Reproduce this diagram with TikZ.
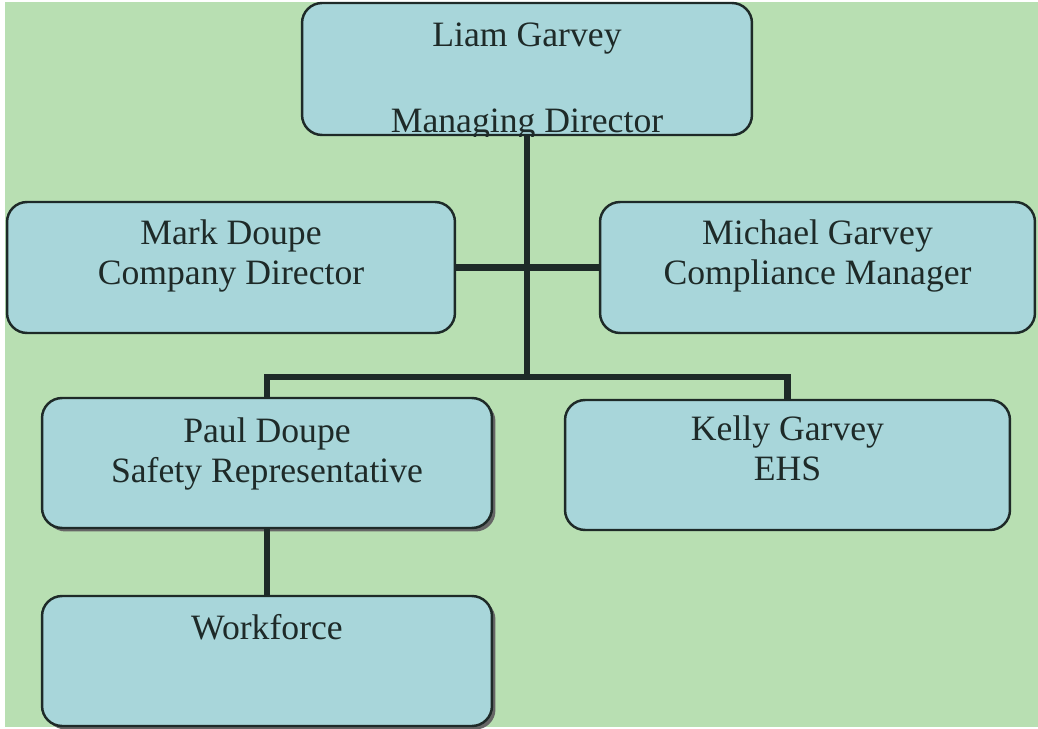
\documentclass[tikz,border=0pt]{standalone}
\usepackage{fontspec}
\setmainfont{Liberation Serif}
\usetikzlibrary{positioning,shadows}
\definecolor{bggreen}{RGB}{184,223,178}
\definecolor{boxblue}{RGB}{168,214,218}
\definecolor{inkdark}{RGB}{30,42,40}
\begin{document}
\begin{tikzpicture}[x=0.02cm,y=-0.02cm,
	orgbox/.style={draw=inkdark,line width=1.4pt,fill=boxblue,rounded corners=0.4cm,inner sep=0pt},
	shadowed/.style={general shadow={shadow xshift=0.07cm,shadow yshift=-0.07cm,fill=gray!80!black}},
	txt/.style={text=inkdark,font=\fontsize{20.3}{23}\selectfont,align=center,inner sep=0pt,anchor=north},
	link/.style={draw=inkdark,line width=3.8pt}]
	\def\bw{9cm}
	\def\bh{2.62cm}
	% page and background
	\fill[white] (0,0) rectangle (1038,729);
	\fill[bggreen] (5,2) rectangle (1038,727);
	% boxes
	\node[orgbox,minimum width=\bw,minimum height=2.64cm] (md) at (527,69) {};
	\node[orgbox,minimum width=8.96cm,minimum height=\bh] (cd) at (231,267.5) {};
	\node[orgbox,minimum width=8.7cm,minimum height=\bh] (cm) at (817.5,267.5) {};
	\node[orgbox,shadowed,minimum width=\bw,minimum height=2.6cm] (sr) at (267,463) {};
	\node[orgbox,minimum width=8.9cm,minimum height=2.6cm] (ehs) at (787.5,465) {};
	\node[orgbox,shadowed,minimum width=\bw,minimum height=2.6cm] (wf) at (267,661) {};
	% texts
	\node[txt] (mdname) at (527,23) {Liam Garvey};
	\begin{scope}
		\clip[rounded corners=0.4cm] (md.south west) rectangle (md.north east);
		\node[txt] (mdrole) at (527,109) {Managing Director};
	\end{scope}
	\node[txt] (cdtxt) at (231,219) {Mark Doupe\\Company Director};
	\node[txt] (cmtxt) at (817.5,219) {Michael Garvey\\Compliance Manager};
	\node[txt] (srtxt) at (267,417) {Paul Doupe\\Safety Representative};
	\node[txt] (ehstxt) at (787.5,415) {Kelly Garvey\\EHS};
	\node[txt] (wftxt) at (267,614) {Workforce};
	% connectors
	\coordinate (hub) at (527,377);
	\draw[link] (md.south) -- (hub);
	\draw[link] (cd.east) -- (cm.west);
	\draw[link] (hub) -| (sr.north);
	\draw[link] (hub) -| (ehs.north);
	\draw[link] (sr.south) -- (wf.north);
\end{tikzpicture}
\end{document}
